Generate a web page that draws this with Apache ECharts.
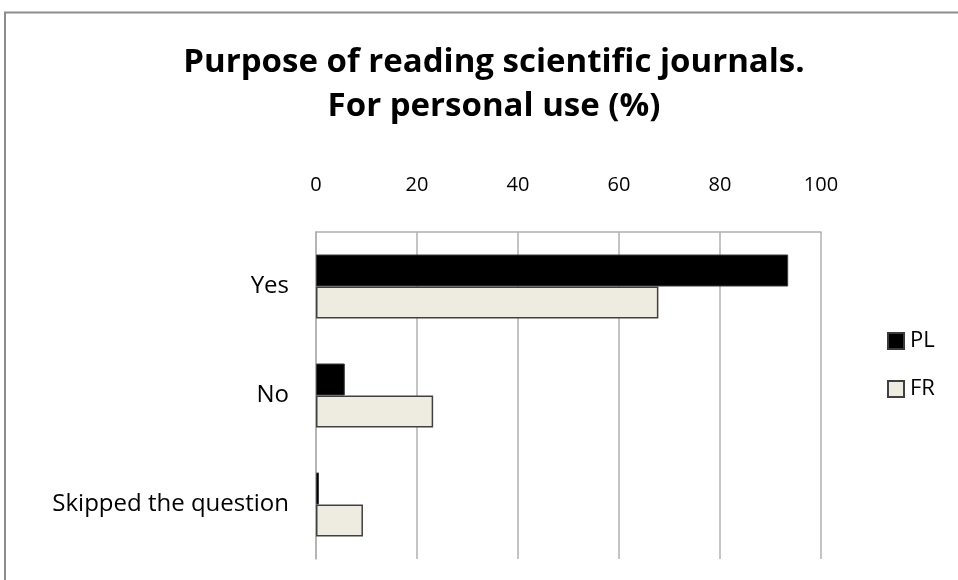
<!DOCTYPE html>
<html><head><meta charset="utf-8">
<script src="https://cdn.jsdelivr.net/npm/echarts@6/dist/echarts.min.js"></script>
<style>html,body{margin:0;padding:0;background:#fff}#c{width:958px;height:580px}</style>
</head><body><div id="c"></div>
<script>
const categories = ['Yes', 'No', 'Skipped the question'];
const seriesNames = ['PL', 'FR'];
const plValues = [93.5, 5.7, 0.6];
const frValues = [67.8, 23.2, 9.3];
const xTicks = [0, 20, 40, 60, 80, 100];

const font = '"Open Sans", Lato, sans-serif';
const chart = echarts.init(document.getElementById('c'));
chart.setOption({
  backgroundColor: '#fff',
  animation: false,
  title: {
    text: 'Purpose of reading scientific journals.\nFor personal use (%)',
    left: 489, top: 36, textAlign: 'center',
    textStyle: { fontFamily: font, fontWeight: 'bold', fontSize: 33, lineHeight: 44, color: '#000' }
  },
  graphic: [{
    type: 'polyline', shape: { points: [[5, 580], [5, 12.5], [958, 12.5]] },
    style: { stroke: '#8c8c8c', lineWidth: 2, fill: null }, silent: true
  }],
  legend: {
    orient: 'vertical', left: 882, top: 325, itemGap: 26, itemWidth: 16, itemHeight: 16,
    icon: 'rect', data: seriesNames,
    textStyle: { fontFamily: font, fontSize: 22, color: '#000', padding: [0, 0, 0, 1] }
  },
  grid: { left: 316, right: 137, top: 232, bottom: 21 },
  xAxis: {
    type: 'value', position: 'top', min: xTicks[0], max: xTicks[xTicks.length - 1], interval: 20,
    axisLine: { show: true, lineStyle: { color: '#b0b0b0', width: 1.5 } },
    axisTick: { show: false },
    axisLabel: { fontFamily: font, fontSize: 20, color: '#000', margin: 37 },
    splitLine: { show: true, lineStyle: { color: '#b0b0b0', width: 1.5 } }
  },
  yAxis: {
    type: 'category', inverse: true, data: categories,
    axisLine: { show: true, lineStyle: { color: '#b0b0b0', width: 1.5 } },
    axisTick: { show: false },
    axisLabel: { fontFamily: font, fontSize: 24, color: '#000', margin: 27 }
  },
  series: [
    { name: 'PL', type: 'bar', data: plValues, barWidth: 32, barGap: '0%',
      itemStyle: { color: '#000', borderColor: '#3a3a3a', borderWidth: 1 } },
    { name: 'FR', type: 'bar', data: frValues, barWidth: 32, barGap: '0%',
      itemStyle: { color: '#eeece1', borderColor: '#404040', borderWidth: 1.5 } }
  ]
});
</script></body></html>
